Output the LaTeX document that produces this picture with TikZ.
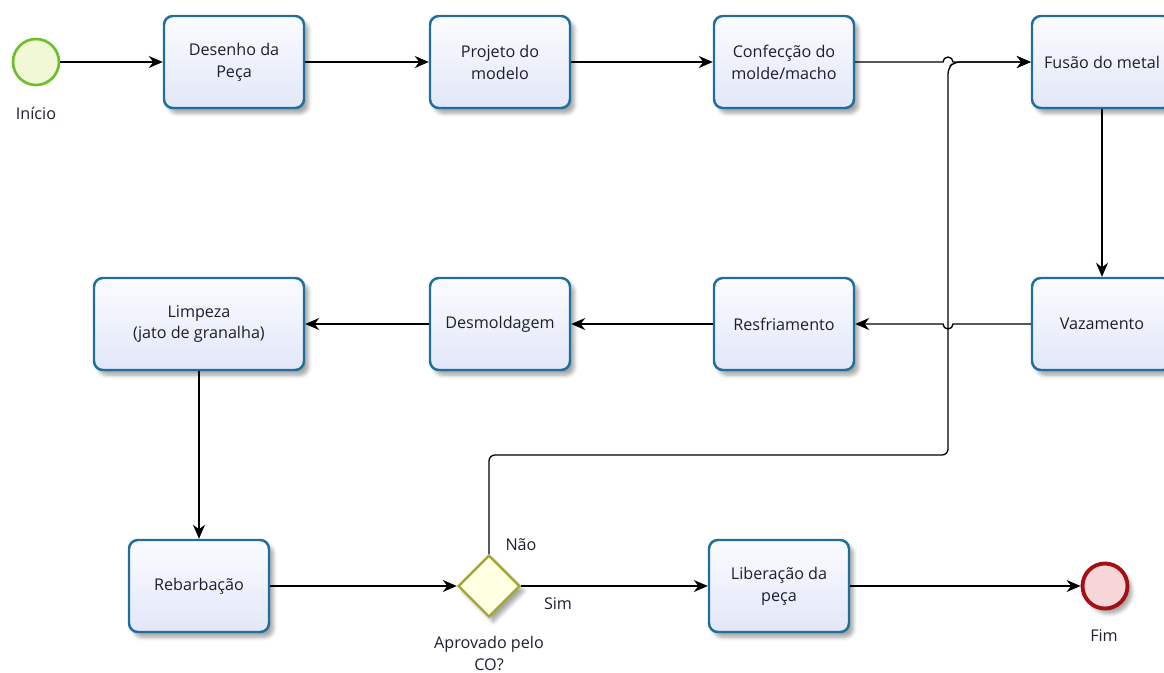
\documentclass[tikz,border=0pt]{standalone}
\usepackage{fontspec}
\setmainfont{Open Sans}
\usepackage{tikz}
\usetikzlibrary{shapes.geometric,arrows.meta,positioning,calc,shadows.blur}
\definecolor{taskLine}{HTML}{1F6E9C}
\definecolor{taskTop}{HTML}{FBFCFF}
\definecolor{taskBot}{HTML}{E2E7F8}
\definecolor{startLine}{HTML}{6DBE2A}
\definecolor{startFill}{HTML}{F0F8D6}
\definecolor{endLine}{HTML}{A50F14}
\definecolor{endFill}{HTML}{F6D6D8}
\definecolor{gateLine}{HTML}{A6A635}
\definecolor{gateFill}{HTML}{FFFFE2}
\definecolor{flowText}{HTML}{1E1E2E}

\begin{document}
\begin{tikzpicture}[
  font=\fontsize{9.2}{12.5}\selectfont,
  every node/.style={text=flowText},
  task/.style={draw=taskLine,line width=1.4pt,rounded corners=5pt,
               top color=taskTop,bottom color=taskBot,
               minimum width=2.8cm,minimum height=1.84cm,align=center,
               blur shadow={shadow blur steps=5,shadow xshift=2.5pt,shadow yshift=-3pt,shadow opacity=35}},
  startev/.style={circle,draw=startLine,line width=1.5pt,fill=startFill,minimum size=0.92cm},
  endev/.style={circle,draw=endLine,line width=2.2pt,fill=endFill,minimum size=0.9cm,
               blur shadow={shadow blur steps=5,shadow xshift=2.5pt,shadow yshift=-3pt,shadow opacity=35}},
  gate/.style={diamond,draw=gateLine,line width=1.4pt,fill=gateFill,minimum size=1.24cm,inner sep=0pt,
               blur shadow={shadow blur steps=5,shadow xshift=2.5pt,shadow yshift=-3pt,shadow opacity=35}},
  flow/.style={-{Stealth[length=2.8mm,width=2.4mm]},black,line width=0.75pt}
]
\useasboundingbox (0,0) rectangle (23.28,-13.44);

% ---- Events ----
\node[startev] (inicio) at (0.72,-1.24) {};
\node (inicioLbl) at (0.72,-2.26) {Início};
\node[endev]   (fim)    at (22.1,-11.72) {};
\node (fimLbl) at (22.08,-12.72) {Fim};

% ---- Top row ----
\node[task] (desenho)   at (4.68,-1.24)  {Desenho da\\Peça};
\node[task] (projeto)   at (10.0,-1.24)  {Projeto do\\modelo};
\node[task] (confeccao) at (15.68,-1.24) {Confecção do\\molde/macho};
\node[task] (fusao)     at (22.04,-1.24) {Fusão do metal};

% ---- Middle row ----
\node[task] (vazamento)    at (22.04,-6.48) {Vazamento};
\node[task] (resfriamento) at (15.68,-6.48) {Resfriamento};
\node[task] (desmoldagem)  at (10.0,-6.48)  {Desmoldagem};
\node[task,minimum width=4.2cm] (limpeza) at (3.98,-6.48) {Limpeza\\(jato de granalha)};

% ---- Bottom row ----
\node[task] (rebarbacao) at (3.98,-11.72)  {Rebarbação};
\node[gate] (aprovado)   at (9.78,-11.72)  {};
\node[align=center] (aprovadoLbl) at (9.78,-13.07) {Aprovado pelo\\CO?};
\node[task] (liberacao)  at (15.58,-11.72) {Liberação da\\peça};

% ---- Sequence flows ----
\coordinate (hopTop) at (18.96,-1.24);
\coordinate (hopMid) at (18.96,-6.48);
\coordinate (naoBend) at (18.96,-9.1);

\draw[flow] (inicio) -- (desenho);
\draw[flow] (desenho) -- (projeto);
\draw[flow] (projeto) -- (confeccao);
\draw[flow] (confeccao.east) -- ($(hopTop)+(-0.1,0)$) arc[start angle=180,end angle=0,radius=0.1] -- (fusao.west);
\draw[flow] (fusao) -- (vazamento);
\draw[flow] (vazamento.west) -- ($(hopMid)+(0.1,0)$) arc[start angle=0,end angle=-180,radius=0.1] -- (resfriamento.east);
\draw[flow] (resfriamento) -- (desmoldagem);
\draw[flow] (desmoldagem) -- (limpeza);
\draw[flow] (limpeza) -- (rebarbacao);
\draw[flow] (rebarbacao) -- (aprovado.west);
\draw[flow] (aprovado.east) -- (liberacao);
\draw[flow] (liberacao) -- (fim);
\draw[flow,rounded corners=0.12cm] (aprovado.north) |- (naoBend) -- ($(hopTop)+(0,-0.12)$) -- ($(hopTop)+(0.12,0)$) -- (fusao.west);

% ---- Gateway labels ----
\node (naoLbl) at (10.42,-10.9)  {Não};
\node (simLbl) at (11.16,-12.08) {Sim};
\end{tikzpicture}
\end{document}
